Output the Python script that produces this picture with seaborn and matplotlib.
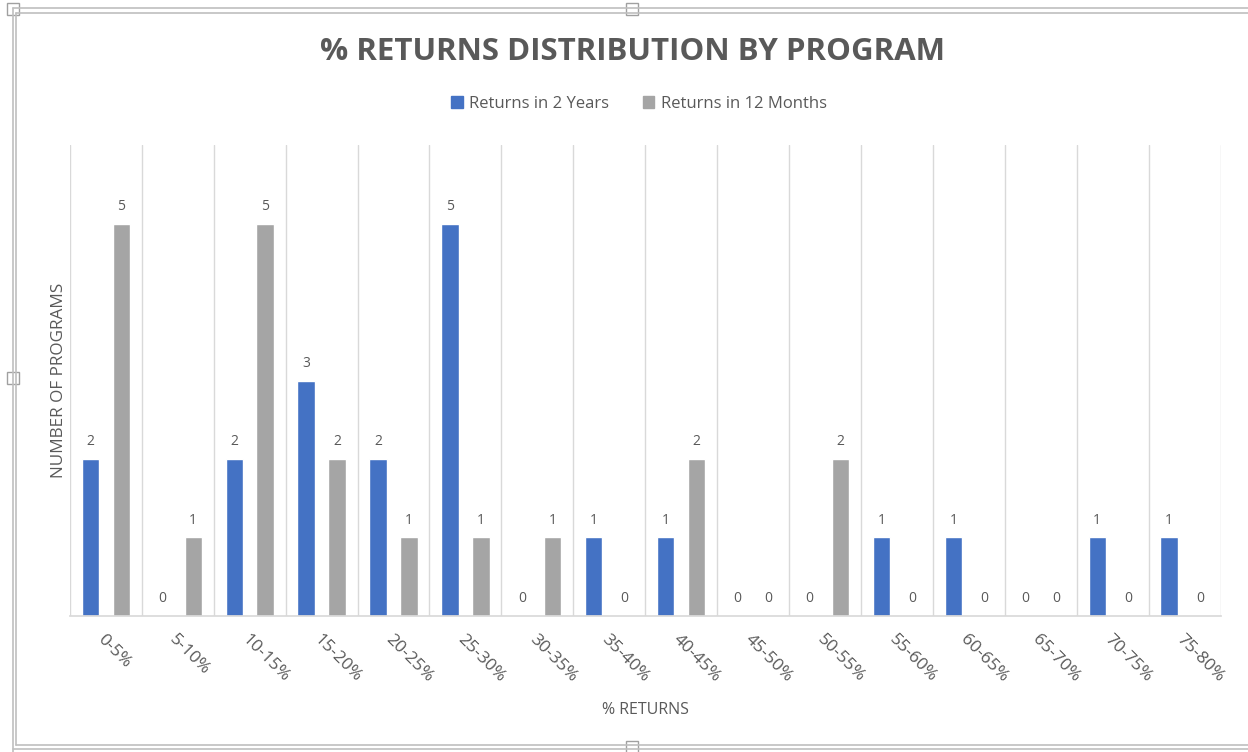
import matplotlib
matplotlib.use("Agg")
import matplotlib.pyplot as plt
import seaborn as sns
import pandas as pd
from matplotlib.patches import Rectangle
from matplotlib.lines import Line2D

categories = ["0-5%", "5-10%", "10-15%", "15-20%", "20-25%", "25-30%", "30-35%", "35-40%",
              "40-45%", "45-50%", "50-55%", "55-60%", "60-65%", "65-70%", "70-75%", "75-80%"]
returns_2y = [2, 0, 2, 3, 2, 5, 0, 1, 1, 0, 0, 1, 1, 0, 1, 1]
returns_12m = [5, 1, 5, 2, 1, 1, 1, 0, 2, 0, 2, 0, 0, 0, 0, 0]
series_names = ["Returns in 2 Years", "Returns in 12 Months"]
colors = ["#4472C4", "#A5A5A5"]

df = pd.DataFrame({
    "cat": categories * 2,
    "val": returns_2y + returns_12m,
    "series": [series_names[0]] * len(categories) + [series_names[1]] * len(categories),
})

sns.set_theme(style="white")
plt.rcParams["font.family"] = ["Open Sans", "DejaVu Sans"]
txt = "#595959"

fig = plt.figure(figsize=(12.48, 7.52), dpi=100)
ax = fig.add_axes([0.056, 0.181, 0.922, 0.626])

sns.barplot(data=df, x="cat", y="val", hue="series", palette=colors, order=categories,
            hue_order=series_names, width=0.86, gap=0.44, ax=ax, legend=False, saturation=1)

for c in ax.containers:
    ax.bar_label(c, padding=7, fontsize=10, color=txt)

ax.set_ylim(0, 6)
ax.set_xlim(-0.5, len(categories) - 0.5)
ax.set_yticks([])
ax.set_xticks(range(len(categories)))
ax.set_xticklabels(categories, rotation=-45, ha="left", rotation_mode="anchor",
                   fontsize=12.5, color=txt)
ax.tick_params(axis="x", length=0, pad=11)
ax.set_xticks([i - 0.5 for i in range(len(categories) + 1)], minor=True)
ax.grid(False)
ax.grid(True, which="minor", axis="x", color="#D9D9D9", linewidth=1)
ax.tick_params(axis="x", which="minor", length=0)
for s in ["top", "right", "left"]:
    ax.spines[s].set_visible(False)
ax.spines["bottom"].set_color("#D9D9D9")
ax.set_xlabel("% RETURNS", fontsize=11.5, color=txt, labelpad=12)
ax.set_ylabel("NUMBER OF PROGRAMS", fontsize=12.3, color=txt, labelpad=2)

fig.text(0.507, 0.931, "% RETURNS DISTRIBUTION BY PROGRAM", ha="center", va="center",
         fontsize=22.5, fontweight="bold", color=txt)

handles = [Rectangle((0, 0), 1, 1, color=c) for c in colors]
fig.legend(handles, series_names, loc="center", bbox_to_anchor=(0.512, 0.862), ncol=2,
           frameon=False, fontsize=12, handlelength=0.7, handleheight=0.7,
           handletextpad=0.4, columnspacing=2.0, labelcolor=txt)

# chart frame of the screenshot
fc = "#BFBFBF"
for (x0, y0, x1, y1) in [(13, 8, 1248, 8), (16, 13, 1248, 13), (13, 8, 13, 752),
                         (16, 13, 16, 745), (16, 745, 1248, 745), (13, 749, 1248, 749)]:
    fig.add_artist(Line2D([x0 / 1248, x1 / 1248], [1 - y0 / 752, 1 - y1 / 752],
                          color=fc, linewidth=1.2, transform=fig.transFigure))
for (hx, hy) in [(13, 9), (632, 9), (13, 378), (632, 747)]:
    fig.add_artist(Rectangle(((hx - 6) / 1248, 1 - (hy + 6) / 752), 12 / 1248, 12 / 752,
                             transform=fig.transFigure, facecolor="white", edgecolor="#A0A0A0",
                             linewidth=1))

fig.savefig("out.png", dpi=100, facecolor="white")
